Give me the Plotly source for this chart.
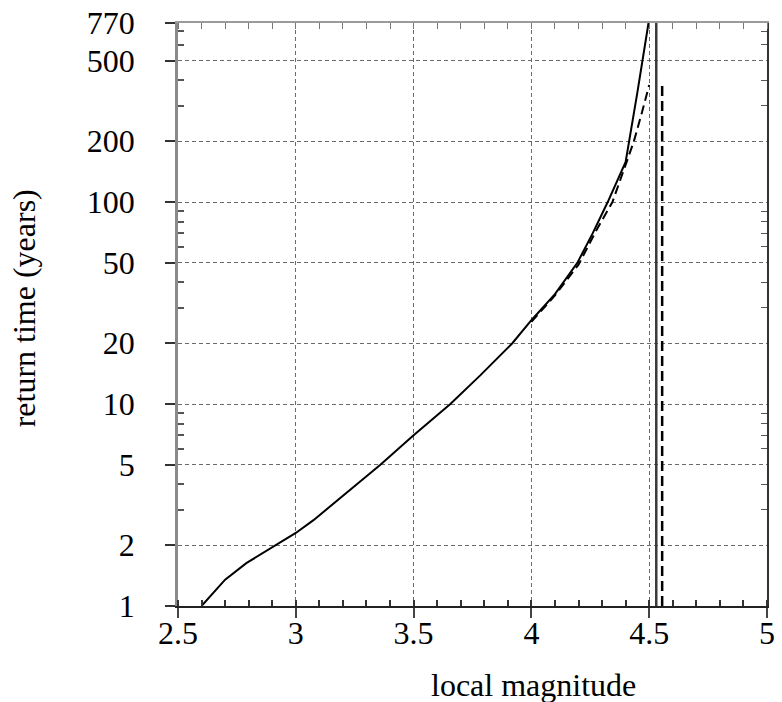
import plotly.graph_objects as go
import math

# ---- data ----
solid_mag = [2.6, 2.7, 2.79, 2.9, 3.0, 3.075, 3.217, 3.359, 3.5, 3.656, 3.784,
             3.919, 4.0, 4.1, 4.195, 4.26, 4.324, 4.40, 4.45, 4.497]
solid_T = [1.0, 1.35, 1.63, 1.95, 2.3, 2.66, 3.63, 5.0, 7.0, 10.0, 13.9,
           20.0, 26.0, 35.0, 50.0, 70.0, 100.0, 158.0, 350.0, 770.0]

dashed_mag = [4.0, 4.1, 4.2, 4.28, 4.344, 4.39, 4.435, 4.47, 4.5]
dashed_T = [25.5, 34.5, 49.0, 74.0, 100.0, 142.0, 200.0, 280.0, 380.0]

vline_solid_mag = [4.53, 4.53]
vline_solid_T = [1.0, 770.0]
vline_dashed_mag = [4.555, 4.555]
vline_dashed_T = [1.0, 380.0]

x_ticks = [2.5, 3, 3.5, 4, 4.5, 5]
x_ticktext = ["2.5", "3", "3.5", "4", "4.5", "5"]
y_ticks = [1, 2, 5, 10, 20, 50, 100, 200, 500, 770]
y_ticktext = ["1", "2", "5", "10", "20", "50", "100", "200", "500", "770"]
y_minor = [3, 4, 6, 7, 8, 9, 30, 40, 60, 70, 80, 90, 300, 400, 600, 700]

x_range = [2.5, 5]
y_range = [0, math.log10(770)]

FONT = "Liberation Serif"
FS = 32
GRID = "#6a6a6a"

fig = go.Figure()
fig.add_trace(go.Scatter(x=solid_mag, y=solid_T, mode="lines",
                         line=dict(color="black", width=2), showlegend=False))
fig.add_trace(go.Scatter(x=dashed_mag, y=dashed_T, mode="lines",
                         line=dict(color="black", width=2, dash="9px,5px"),
                         showlegend=False))
fig.add_trace(go.Scatter(x=vline_solid_mag, y=vline_solid_T, mode="lines",
                         line=dict(color="#3a3a3a", width=2.5), showlegend=False))
fig.add_trace(go.Scatter(x=vline_dashed_mag, y=vline_dashed_T, mode="lines",
                         line=dict(color="black", width=2.5, dash="10px,5px"),
                         showlegend=False))
# empty trace so the mirrored (top/right) frame axes get drawn
fig.add_trace(go.Scatter(x=[], y=[], xaxis="x2", yaxis="y2", mode="lines",
                         showlegend=False, hoverinfo="skip"))

fig.update_layout(
    width=782, height=702,
    margin=dict(l=178, r=15, t=23, b=96, autoexpand=False),
    paper_bgcolor="white", plot_bgcolor="white",
    font=dict(family=FONT, size=FS, color="black"),
    xaxis=dict(
        range=x_range, tickvals=x_ticks, ticktext=x_ticktext, automargin=False,
        showgrid=True, gridcolor=GRID, gridwidth=1, griddash="4px,3px",
        zeroline=False, showline=True, linecolor="#222", linewidth=1.5,
        ticks="outside", ticklen=10, tickcolor="#444", tickwidth=1.5,
        ticklabelstandoff=-12, ticklabeloverflow="allow",
        minor=dict(dtick=0.1, ticks="inside", ticklen=6, tickcolor="#333",
                   showgrid=False),
    ),
    yaxis=dict(
        type="log", range=y_range, tickvals=y_ticks, ticktext=y_ticktext,
        automargin=False,
        showgrid=True, gridcolor=GRID, gridwidth=1, griddash="4px,3px",
        zeroline=False, showline=True, linecolor="#8a8a8a", linewidth=2.5,
        ticks="outside", ticklen=10, tickcolor="#333", tickwidth=1.5,
        ticklabelstandoff=24, ticklabeloverflow="allow",
        minor=dict(tickmode="array", tickvals=y_minor, ticks="inside",
                   ticklen=6, tickcolor="#555", showgrid=False),
    ),
    xaxis2=dict(
        overlaying="x", side="top", range=x_range, showgrid=False,
        automargin=False, anchor="y2",
        zeroline=False, showline=True, linecolor="#9a9a9a", linewidth=1.5,
        showticklabels=False, tickvals=x_ticks, ticks="",
        minor=dict(dtick=0.1, ticks="inside", ticklen=6, tickcolor="#777",
                   showgrid=False),
    ),
    yaxis2=dict(
        overlaying="y", side="right", type="log", range=y_range,
        automargin=False, anchor="x2",
        showgrid=False, zeroline=False, showline=True, linecolor="#333",
        linewidth=1.5, showticklabels=False, tickvals=y_ticks, ticks="",
        minor=dict(tickmode="array", tickvals=y_minor, ticks="inside",
                   ticklen=6, tickcolor="#555", showgrid=False),
    ),
    annotations=[
        dict(text="local magnitude", xref="paper", yref="paper",
             x=0.603, y=0, xanchor="center", yanchor="middle", yshift=-79,
             showarrow=False, font=dict(family=FONT, size=FS, color="black")),
        dict(text="return time (years)", xref="paper", yref="paper",
             x=-0.262, y=0.51, xanchor="center", yanchor="middle",
             textangle=-90, showarrow=False,
             font=dict(family=FONT, size=FS, color="black")),
    ],
)

# remove the default 8px page margin so the figure fills the window exactly
fig.write_html("out.html",
               config={"displayModeBar": False},
               post_script="document.body.style.margin='0';"
                           "document.body.style.overflow='hidden';")
